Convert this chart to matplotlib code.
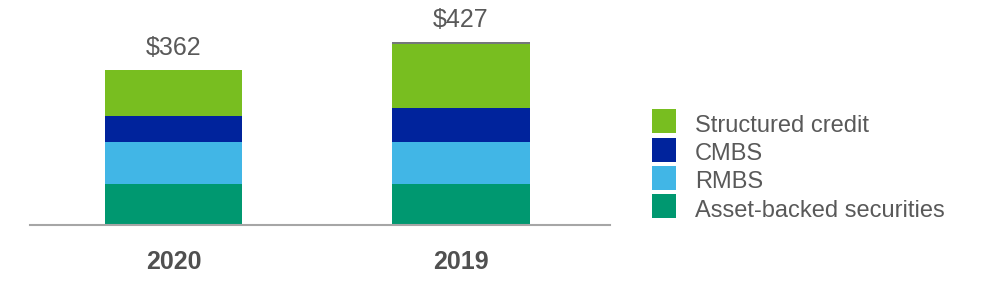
import matplotlib
matplotlib.use("Agg")
import matplotlib.pyplot as plt
from matplotlib.patches import Rectangle

years = ["2020", "2019"]
abs_vals = [95, 96]
rmbs_vals = [98, 98]
cmbs_vals = [61, 80]
sc_vals = [108, 149]
other_vals = [0, 4]
totals = ["$362", "$427"]

series_names = ["Asset-backed securities", "RMBS", "CMBS", "Structured credit"]
series_vals = [abs_vals, rmbs_vals, cmbs_vals, sc_vals]
colors = ["#009870", "#41B6E6", "#00239C", "#78BE20"]
other_color = "#75787B"

plt.rcParams['font.family'] = ['Liberation Sans', 'DejaVu Sans']

fig = plt.figure(figsize=(10, 3), dpi=100)
ax = fig.add_axes([0.03, 0.25, 0.58, 0.717])

x = list(range(len(years)))
bottoms = [0] * len(years)
width = 0.48
for name, vals, c in zip(series_names, series_vals, colors):
    ax.bar(x, vals, width=width, bottom=bottoms, color=c, linewidth=0)
    bottoms = [b + v for b, v in zip(bottoms, vals)]
ax.bar(x, other_vals, width=width, bottom=bottoms, color=other_color, linewidth=0)
bottoms = [b + v for b, v in zip(bottoms, other_vals)]

for xi, top, lab in zip(x, bottoms, totals):
    ax.annotate(lab, (xi, top), xytext=(0, 11), textcoords="offset points",
                ha="center", va="baseline", fontsize=18, color="#595959")

ax.set_xlim(-0.5, 1.52)
ax.set_ylim(0, 502)
ax.set_yticks([])
ax.set_xticks(x)
ax.set_xticklabels(years, fontsize=18, fontweight="bold", color="#505050")
ax.tick_params(axis="x", length=0, pad=18)
for s in ["top", "right", "left"]:
    ax.spines[s].set_visible(False)
ax.spines["bottom"].set_color("#A6A6A6")
ax.spines["bottom"].set_linewidth(1.5)

# legend (manual), top-down in reverse stack order
W, H = 1000, 300
leg_names = series_names[::-1]
leg_colors = colors[::-1]
for i, (name, c) in enumerate(zip(leg_names, leg_colors)):
    top = 109.3 + i * 28.3
    rect = Rectangle((652 / W, 1 - (top + 24) / H), 24 / W, 24 / H,
                     transform=fig.transFigure, color=c, linewidth=0)
    fig.add_artist(rect)
    fig.text(695 / W, 1 - (top + 22.5) / H, name, fontsize=17, color="#595959",
             ha="left", va="baseline")

fig.savefig("out.png", dpi=100)
